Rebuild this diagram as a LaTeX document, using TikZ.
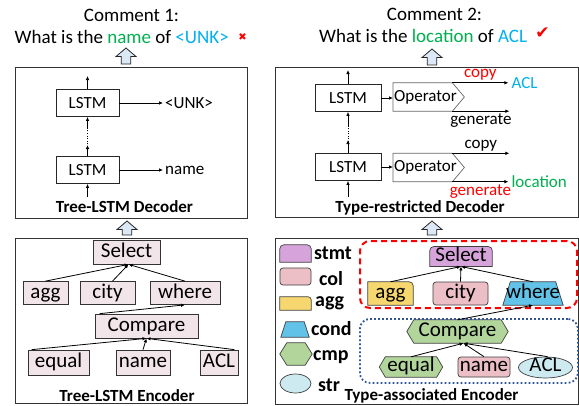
\documentclass[tikz,border=0pt]{standalone}
\usepackage{fontspec}
\setmainfont{Carlito}
\newfontfamily\dejavu{DejaVu Sans}
\usetikzlibrary{arrows.meta,shapes.geometric,backgrounds,calc}
\pgfdeclarelayer{canvas}
\pgfsetlayers{canvas,background,main}

\definecolor{treefill}{RGB}{242,229,234}
\definecolor{stmtfill}{RGB}{214,163,219}
\definecolor{colfill}{RGB}{236,190,198}
\definecolor{aggfill}{RGB}{246,214,110}
\definecolor{condfill}{RGB}{98,194,232}
\definecolor{cmpfill}{RGB}{178,213,155}
\definecolor{strfill}{RGB}{205,234,241}
\definecolor{arrowfill}{RGB}{219,232,246}
\definecolor{txtgreen}{RGB}{0,176,80}
\definecolor{txtblue}{RGB}{0,176,240}
\definecolor{dotblue}{RGB}{47,85,151}

% outlines drawn around plain (undrawn) nodes
\newcommand\hexout[3]{\path[#3] (#1.west) -- ([xshift=#2]#1.north west) -- ([xshift=-#2]#1.north east) -- (#1.east) -- ([xshift=-#2]#1.south east) -- ([xshift=#2]#1.south west) -- cycle;}
\newcommand\trapout[3]{\path[#3] (#1.south west) -- (#1.south east) -- ([xshift=-#2]#1.north east) -- ([xshift=#2]#1.north west) -- cycle;}
\newcommand\toproundout[3]{\path[#3] (#1.south west) -- ([yshift=-#2]#1.north west) arc[start angle=180,end angle=90,radius=#2] -- ([xshift=-#2]#1.north east) arc[start angle=90,end angle=0,radius=#2] -- (#1.south east) -- cycle;}
\newcommand\oneroundout[3]{\path[#3] (#1.south west) -- (#1.north west) -- ([xshift=-#2]#1.north east) arc[start angle=90,end angle=0,radius=#2] -- (#1.south east) -- cycle;}
% hollow block arrow pointing up: centre x, top y, bottom y
\newcommand\blockup[3]{\draw[hollow] (#1,#2) -- (#1+10,#2+8.5) -- (#1+4.8,#2+8.5) -- (#1+4.8,#3) -- (#1-4.8,#3) -- (#1-4.8,#2+8.5) -- (#1-10,#2+8.5) -- cycle;}

\begin{document}
\begin{tikzpicture}[x=1pt,y=-1pt,
  panel/.style={draw=black!80,line width=1pt,inner sep=0pt,anchor=north west},
  cell/.style={draw=black!85,line width=0.8pt,minimum width=63pt,minimum height=27pt,inner sep=0pt,font=\fontsize{17}{20}\selectfont},
  opbox/.style={rectangle,minimum height=28pt,text width=57pt,inner xsep=1pt,inner ysep=0pt,align=left,anchor=west,font=\fontsize{17}{20}\selectfont},
  opline/.style={draw=black!60,line width=0.7pt},
  flow/.style={line width=0.7pt,-{Latex[length=4pt,width=3.5pt]}},
  dots/.style={line width=0.9pt,dash pattern=on 1pt off 1.6pt},
  lbl/.style={inner sep=0pt,font=\fontsize{17}{20}\selectfont},
  big/.style={inner sep=0pt,font=\fontsize{19}{22}\selectfont},
  heading/.style={inner sep=0pt,anchor=base,font=\bfseries\fontsize{17}{20}\selectfont},
  tnode/.style={draw=black!80,line width=0.7pt,fill=treefill,inner xsep=0pt,inner ysep=2pt,text height=14.5pt,text depth=4.5pt,font=\fontsize{21}{24}\selectfont},
  rnode/.style={inner xsep=0pt,inner ysep=1pt,text height=13.5pt,text depth=4pt,font=\fontsize{21}{24}\selectfont},
  outl/.style={draw=black!75,line width=0.7pt},
  link/.style={line width=0.8pt,-{Latex[length=4pt,width=3.5pt]}},
  swatch/.style={inner sep=0pt},
  key/.style={inner sep=0pt,anchor=base west,font=\bfseries\fontsize{20}{24}\selectfont},
  hollow/.style={draw=black!85,line width=0.8pt,fill=arrowfill,line join=miter}]

\begin{pgfonlayer}{canvas}
  \fill[white] (0,0) rectangle (579,405);
\end{pgfonlayer}
\useasboundingbox (0,0) rectangle (579,405);

% ---------- panels ----------
\node[panel,minimum width=232pt,minimum height=151pt] (decL) at (15,67) {};
\node[panel,minimum width=232pt,minimum height=165pt] (encL) at (15,238) {};
\node[panel,minimum width=303pt,minimum height=150pt] (decR) at (275,67) {};
\node[panel,minimum width=303pt,minimum height=166pt] (encR) at (275,238) {};

\blockup{126}{48}{64}
\blockup{127}{221}{235}
\blockup{432}{49}{65}
\blockup{432}{221}{235}

% ---------- comments ----------
\node[big,anchor=base] (c1) at (131.5,21) {Comment 1:};
\node[big,anchor=base west] (q1) at (14.5,43.5) {What is the \textcolor{txtgreen}{name} of \textcolor{txtblue}{<UNK>}};
\node[inner sep=0pt,text=red,font=\dejavu\fontsize{10}{10}\selectfont] (x1) at (242.5,37.5) {✖};
\node[big,anchor=base] (c2) at (434.5,20.5) {Comment 2:};
\node[big,anchor=base west] (q2) at (319,42.5) {What is the \textcolor{txtgreen}{location} of \textcolor{txtblue}{ACL}};
\node[inner sep=0pt,text=red,font=\dejavu\fontsize{17}{17}\selectfont] (ok2) at (542.5,33) {✔};

% ---------- Tree-LSTM decoder ----------
\node[cell] (l1) at (87.5,103) {LSTM};
\node[cell] (l2) at (87.5,170) {LSTM};
\coordinate (l1out) at (87.5,76);
\coordinate (l2in) at (87.5,197);
\coordinate (ldlo) at (87.5,145);
\coordinate (ldhi) at (87.5,128);
\draw[flow] (l1.north) -- (l1out);
\draw[flow] (l2in) -- (l2.south);
\draw[flow] (l2.north) -- (ldlo);
\draw[dots] ([yshift=-2pt]ldlo) -- ([yshift=2pt]ldhi);
\draw[flow] (ldhi) -- (l1.south);
\node[lbl,anchor=west,inner xsep=2pt] (unk) at (163,103) {<UNK>};
\node[lbl,anchor=west,inner xsep=2pt] (nm) at (163,170) {name};
\draw[flow] (l1.east) -- (unk.west);
\draw[flow] (l2.east) -- (nm.west);
\node[heading] (t1) at (124.5,212.5) {Tree-LSTM Decoder};

% ---------- Type-restricted decoder ----------
\node[cell,minimum width=66pt] (r1) at (348,98) {LSTM};
\node[cell,minimum width=66pt] (r2) at (348,167) {LSTM};
\coordinate (r1out) at (348,70);
\coordinate (r2in) at (348,197);
\coordinate (rdlo) at (348,140);
\coordinate (rdhi) at (348,127);
\draw[flow] (r1.north) -- (r1out);
\draw[flow] (r2in) -- (r2.south);
\draw[flow] (r2.north) -- (rdlo);
\draw[dots] ([yshift=-2pt]rdlo) -- ([yshift=2pt]rdhi);
\draw[flow] (rdhi) -- (r1.south);

\node[opbox] (op1) at (393,97) {Operator};
\node[opbox] (op2) at (393,167.5) {Operator};
\path[opline] (op1.north west) -- (op1.north east) -- ([xshift=12pt]op1.east) -- (op1.south east) -- (op1.south west) -- cycle;
\path[opline] (op2.north west) -- (op2.north east) -- ([xshift=12pt]op2.east) -- (op2.south east) -- (op2.south west) -- cycle;
\draw[flow] (r1.east) -- (r1.east -| op1.west);
\draw[flow] (r2.east) -- (r2.east -| op2.west);

\node[lbl,anchor=west,inner xsep=3pt,text=txtblue] (acld) at ($(op1.north east)+(56,0)$) {ACL};
\draw[flow] (op1.north east) -- (acld.west) node[lbl,midway,above=2.5pt,text=red] {copy};
\coordinate (gen1) at ($(op1.south east)+(57,0)$);
\draw[flow] (op1.south east) -- (gen1) node[lbl,midway,below=2pt] {generate};
\coordinate (cp2) at ($(op2.north east)+(57,0)$);
\draw[flow] (op2.north east) -- (cp2) node[lbl,midway,above=2pt] {copy};
\node[lbl,anchor=west,inner xsep=3pt,text=txtgreen] (loc) at ($(op2.south east)+(56,0)$) {location};
\draw[flow] (op2.south east) -- (loc.west) node[lbl,midway,below=3pt,text=red] {generate};
\node[heading] (t2) at (420,212.5) {Type-restricted Decoder};

% ---------- Tree-LSTM encoder ----------
\node[tnode,minimum width=67pt,minimum height=24pt] (sel1) at (126.5,252) {Select};
\node[tnode,minimum width=45pt,minimum height=22pt] (agg1) at (45.5,293) {agg};
\node[tnode,minimum width=55pt,minimum height=22pt] (city1) at (107.5,293) {city};
\node[tnode,minimum width=70pt,minimum height=22pt] (where1) at (185,293) {where};
\node[tnode,minimum width=103pt,minimum height=24pt] (comp1) at (146.5,326) {Compare};
\node[tnode,minimum width=61pt,minimum height=25pt] (equal1) at (58.5,362.5) {equal};
\node[tnode,minimum width=54pt,minimum height=25pt] (name1) at (143,362.5) {name};
\node[tnode,minimum width=38pt,minimum height=25pt] (acl1) at (219,362.5) {ACL};
\draw[link] (agg1.north) -- ([xshift=2pt]sel1.south);
\draw[link] ([xshift=5pt]city1.north) -- ([xshift=2pt]sel1.south);
\draw[link] (where1.north) -- ([xshift=2pt]sel1.south);
\draw[link] ([xshift=5pt]comp1.north west) -- (where1.south);
\draw[link] ([xshift=4pt]equal1.north west) -- (comp1.south);
\draw[link] (name1.north) -- (comp1.south);
\draw[link] ([xshift=-4pt]acl1.north east) -- (comp1.south);
\node[heading] (t3) at (127,401.5) {Tree-LSTM Encoder};

% ---------- Type-associated encoder ----------
\node[draw=red,line width=2pt,dash pattern=on 6pt off 4pt,rounded corners=10pt,anchor=north west,minimum width=217pt,minimum height=67pt] (zoneA) at (359,240) {};
\node[draw=dotblue,line width=1.8pt,dash pattern=on 1.8pt off 2.2pt,rounded corners=10pt,anchor=north west,minimum width=218pt,minimum height=64pt] (zoneB) at (359,318) {};

\node[rnode,minimum width=62pt,minimum height=19pt] (sel2) at (461,256.5) {Select};
\node[rnode,minimum width=45pt,minimum height=23pt] (agg2) at (390.5,293.5) {agg};
\node[rnode,rectangle,rounded corners=3pt,draw=black!75,line width=0.7pt,fill=colfill,minimum width=55pt,minimum height=23pt] (city2) at (460.5,293.5) {city};
\node[rnode,minimum width=60pt,minimum height=23pt] (where2) at (533,293.5) {where};
\node[rnode,minimum width=101pt,minimum height=23pt] (comp2) at (457.5,331.5) {Compare};
\node[rnode,minimum width=63pt,minimum height=20pt] (equal2) at (411,367) {equal};
\node[rnode,rectangle,rounded corners=3pt,draw=black!75,line width=0.7pt,fill=colfill,minimum width=52pt,minimum height=20pt] (name2) at (484,367) {name};
\node[ellipse,draw=black!75,line width=0.7pt,fill=strfill,inner sep=0pt,text height=10pt,text depth=2pt,minimum width=54pt,minimum height=21pt,font=\fontsize{21}{24}\selectfont] (acl2) at (545.5,367.5) {ACL};

% legend swatches
\node[swatch,minimum width=31pt,minimum height=17pt] (kstmt) at (295.5,253.5) {};
\node[swatch,rectangle,rounded corners=3pt,draw=black!75,line width=0.7pt,fill=colfill,minimum width=31pt,minimum height=17pt] (kcol) at (295.5,276.5) {};
\node[swatch,minimum width=31pt,minimum height=13pt] (kagg) at (295.5,303.5) {};
\node[swatch,minimum width=28pt,minimum height=15pt] (kcond) at (295,329.5) {};
\node[swatch,minimum width=32pt,minimum height=22pt] (kcmp) at (296,354) {};
\node[swatch,ellipse,draw=black!75,line width=0.7pt,fill=strfill,minimum width=31pt,minimum height=19pt] (kstr) at (295.5,383.5) {};

\begin{scope}[on background layer]
  \toproundout{sel2}{4pt}{outl,fill=stmtfill}
  \oneroundout{agg2}{4pt}{outl,fill=aggfill}
  \trapout{where2}{7.5pt}{outl,fill=condfill}
  \hexout{comp2}{7pt}{outl,fill=cmpfill}
  \hexout{equal2}{6pt}{outl,fill=cmpfill}
  \toproundout{kstmt}{4pt}{outl,fill=stmtfill}
  \oneroundout{kagg}{3pt}{outl,fill=aggfill}
  \trapout{kcond}{5pt}{outl,fill=condfill}
  \hexout{kcmp}{7pt}{outl,fill=cmpfill}
\end{scope}

\node[key] (lstmt) at (314,259) {stmt};
\node[key] (lcol) at (319,285) {col};
\node[key] (lagg) at (315,306.5) {agg};
\node[key] (lcond) at (311,335) {cond};
\node[key] (lcmp) at (313,360) {cmp};
\node[key] (lstr) at (318,391.5) {str};

\draw[link] (agg2.north) -- (sel2.south);
\draw[link] (city2.north) -- (sel2.south);
\draw[link] (where2.north) -- (sel2.south);
\draw[link] (comp2.north) -- (where2.south);
\draw[link] (equal2.north) -- ([xshift=6pt]comp2.south);
\draw[link] (name2.north) -- ([xshift=6pt]comp2.south);
\draw[link] ([xshift=2pt]acl2.north) -- ([xshift=6pt]comp2.south);
\node[heading] (t4) at (431.5,400.5) {Type-associated Encoder};

\end{tikzpicture}
\end{document}
